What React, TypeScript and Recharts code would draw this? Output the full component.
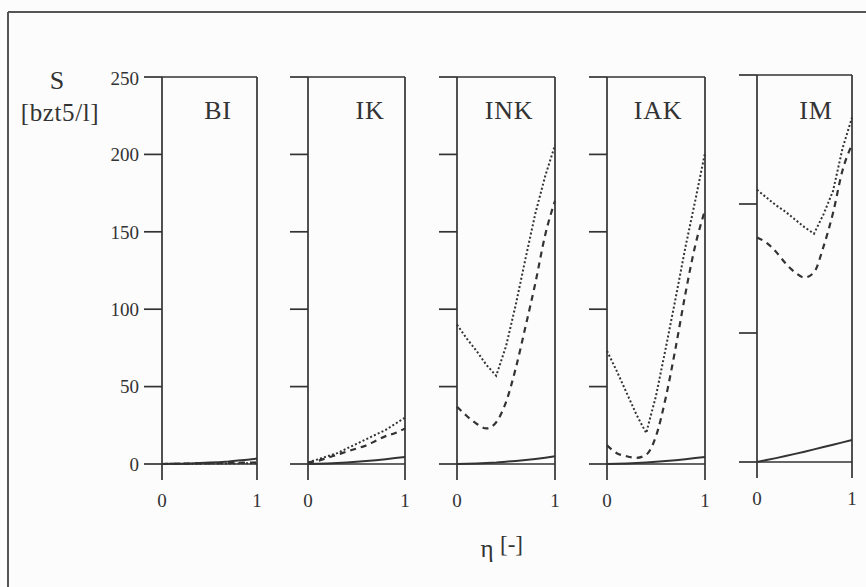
import React from 'react';
import { LineChart, Line, XAxis, YAxis, ReferenceLine } from 'recharts';

// ---- data ----
const eta = [0, 0.1, 0.2, 0.3, 0.4, 0.5, 0.6, 0.7, 0.8, 0.9, 1];
const xTicks = [0, 1];
const yTicksMain = [0, 50, 100, 150, 200, 250];
const yTicksIM = [0, 100, 200, 300];

const biSolid = [0, 0.1, 0.2, 0.4, 0.6, 0.9, 1.2, 1.6, 2.2, 2.8, 3.5];
const biDashed = [0, 0.1, 0.2, 0.3, 0.4, 0.5, 0.6, 0.7, 0.8, 0.9, 1.0];
const biDotted = [0, 0.1, 0.1, 0.2, 0.2, 0.3, 0.3, 0.4, 0.4, 0.5, 0.5];

const ikSolid = [0, 0.2, 0.4, 0.7, 1, 1.4, 1.9, 2.5, 3.1, 3.8, 4.5];
const ikDashed = [1, 2, 4, 6, 8, 10, 12, 15, 18, 20, 23];
const ikDotted = [1, 3, 5, 7, 10, 13, 16, 19, 22, 26, 30];

const inkSolid = [0, 0.2, 0.4, 0.7, 1, 1.5, 2, 2.6, 3.3, 4.1, 5];
const inkDashed = [37, 31, 26, 23, 27, 40, 62, 89, 117, 148, 170];
const inkDotted = [90, 81, 73, 64, 57, 76, 103, 133, 162, 186, 206];

const iakSolid = [0, 0.2, 0.4, 0.7, 1, 1.4, 1.9, 2.5, 3.1, 3.8, 4.5];
const iakDashed = [12, 7, 5, 4, 6, 18, 43, 75, 110, 141, 164];
const iakDotted = [73, 60, 46, 32, 20, 44, 75, 107, 140, 170, 201];

const imSolid = [0, 1.5, 3, 4.6, 6.3, 8, 9.8, 11.6, 13.4, 15.2, 17];
const imDashed = [174, 170, 163, 154, 147, 143, 147, 167, 193, 226, 246];
const imDotted = [211, 205, 199, 194, 188, 182, 177, 192, 210, 243, 267];

const panelNames = ['BI', 'IK', 'INK', 'IAK', 'IM'];

// ---- styling / layout ----
const FONT = '"Liberation Serif", "Times New Roman", serif';
const INKC = '#333333';
const ML = 60;
const MT = 10;
const MR = 5;
const XH = 50;

function build(solid: number[], dashed: number[], dotted: number[]) {
  return eta.map((e, i) => ({ eta: e, solid: solid[i], dashed: dashed[i], dotted: dotted[i] }));
}

const panelData = [
  { data: build(biSolid, biDashed, biDotted), yMax: 250, yTicks: yTicksMain, labels: true },
  { data: build(ikSolid, ikDashed, ikDotted), yMax: 250, yTicks: yTicksMain, labels: false },
  { data: build(inkSolid, inkDashed, inkDotted), yMax: 250, yTicks: yTicksMain, labels: false },
  { data: build(iakSolid, iakDashed, iakDotted), yMax: 250, yTicks: yTicksMain, labels: false },
  { data: build(imSolid, imDashed, imDotted), yMax: 300, yTicks: yTicksIM, labels: false },
];

const panelLayout = [
  { x: 162, y: 77, w: 95, h: 387, tx: 218 },
  { x: 308, y: 77, w: 97, h: 387, tx: 370 },
  { x: 457, y: 77, w: 98, h: 387, tx: 509 },
  { x: 607, y: 77, w: 98, h: 387, tx: 658 },
  { x: 757, y: 75, w: 95, h: 387, tx: 816 },
];

function Panel({ idx }: { idx: number }) {
  const p = panelData[idx];
  const l = panelLayout[idx];
  const axisStyle = { stroke: INKC, strokeWidth: 1.7 };
  return (
    <div style={{ position: 'absolute', left: l.x - ML, top: l.y - MT }}>
      <LineChart
        width={l.w + ML + MR}
        height={l.h + MT + XH}
        data={p.data}
        margin={{ top: MT, right: MR, bottom: 0, left: 0 }}
      >
        <XAxis
          dataKey="eta"
          type="number"
          domain={[0, 1]}
          ticks={xTicks}
          height={XH}
          tickSize={16}
          tickMargin={14}
          axisLine={axisStyle}
          tickLine={axisStyle}
          tick={{ fill: INKC, fontSize: 19, fontFamily: FONT }}
        />
        <YAxis
          type="number"
          domain={[0, p.yMax]}
          ticks={p.yTicks}
          width={ML}
          tickSize={18}
          tickMargin={5}
          axisLine={axisStyle}
          tickLine={axisStyle}
          tickFormatter={p.labels ? (v: number) => String(v) : () => ''}
          tick={{ fill: INKC, fontSize: 19, fontFamily: FONT }}
        />
        <ReferenceLine y={p.yMax} stroke={INKC} strokeWidth={1.7} />
        <ReferenceLine x={1} stroke={INKC} strokeWidth={1.7} />
        <Line
          dataKey="solid"
          type="linear"
          stroke={INKC}
          strokeWidth={2}
          dot={false}
          isAnimationActive={false}
        />
        <Line
          dataKey="dashed"
          type="monotone"
          stroke={INKC}
          strokeWidth={2.2}
          strokeDasharray="6 5"
          dot={false}
          isAnimationActive={false}
        />
        <Line
          dataKey="dotted"
          type="linear"
          stroke={INKC}
          strokeWidth={2}
          strokeDasharray="2 2.2"
          dot={false}
          isAnimationActive={false}
        />
      </LineChart>
    </div>
  );
}

export default function App() {
  return (
    <div
      style={{
        position: 'absolute',
        left: 0,
        top: 0,
        width: 866,
        height: 587,
        background: '#fcfcfc',
        overflow: 'hidden',
        fontFamily: FONT,
      }}
    >
      <svg width={866} height={587} style={{ position: 'absolute', left: 0, top: 0 }}>
        <line x1={8} y1={12} x2={866} y2={12} stroke="#555" strokeWidth={2} />
        <line x1={8} y1={12} x2={8} y2={587} stroke="#555" strokeWidth={2} />
        <text x={57} y={89} textAnchor="middle" fontSize={26} fill={INKC} fontFamily={FONT}>S</text>
        <text x={60} y={121} textAnchor="middle" fontSize={25} letterSpacing={0.6} fill={INKC} fontFamily={FONT}>[bzt5/l]</text>
        {panelNames.map((n, i) => (
          <text key={n} x={panelLayout[i].tx} y={119} textAnchor="middle" fontSize={26} letterSpacing={0.8} fill={INKC} fontFamily={FONT}>
            {n}
          </text>
        ))}
        <text x={487} y={557} textAnchor="middle" fontSize={25} fill={INKC} fontFamily={FONT}>η</text>
        <text x={500} y={552} textAnchor="start" fontSize={23} fill={INKC} fontFamily={FONT}>[-]</text>
      </svg>
      {panelNames.map((n, i) => (
        <Panel key={n} idx={i} />
      ))}
    </div>
  );
}
